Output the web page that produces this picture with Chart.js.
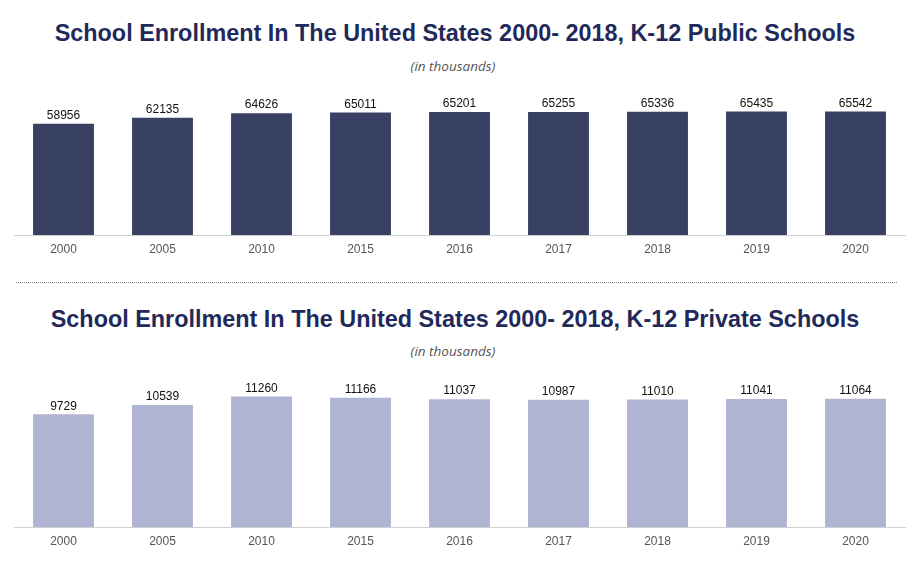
<!DOCTYPE html>
<html>
<head>
<meta charset="utf-8">
<script src="https://cdn.jsdelivr.net/npm/chart.js@4"></script>
<style>
    body { margin: 0; background: #fff; width: 920px; height: 568px; position: relative; overflow: hidden; }
    .titulo { position: absolute; left: 0; width: 910px; text-align: center; font: bold 23.4px "Liberation Sans", Arial, sans-serif; line-height: 26px; color: #1f2a5b; }
    .sub { position: absolute; left: 0; width: 906px; text-align: center; font: italic 13.5px "Open Sans", sans-serif; line-height: 16px; color: #555; }
    .sep { position: absolute; left: 16px; width: 881px; top: 282px; border-top: 1px dotted #888; }
    .caja { position: absolute; left: 0; width: 920px; }
</style>
</head>
<body>
<div class="titulo" style="top:20px">School Enrollment In The United States 2000- 2018, K-12 Public Schools</div>
<div class="sub" style="top:58px">(in thousands)</div>
<div class="caja" style="top:80px;height:185px"><canvas id="graficaPublica"></canvas></div>
<div class="sep"></div>
<div class="titulo" style="top:306px">School Enrollment In The United States 2000- 2018, K-12 Private Schools</div>
<div class="sub" style="top:343px">(in thousands)</div>
<div class="caja" style="top:365px;height:192px"><canvas id="graficaPrivada"></canvas></div>

<script>
//datos de la grafica
const anios = ['2000', '2005', '2010', '2015', '2016', '2017', '2018', '2019', '2020']
const publicas = [58956, 62135, 64626, 65011, 65201, 65255, 65336, 65435, 65542]
const privadas = [9729, 10539, 11260, 11166, 11037, 10987, 11010, 11041, 11064]

Chart.defaults.font.family = '"Liberation Sans", Arial, sans-serif'
Chart.defaults.animation = false

//plugin para escribir el valor encima de cada barra
const etiquetas = {
    id: 'etiquetas',
    afterDatasetsDraw(chart) {
        const ctx = chart.ctx
        const meta = chart.getDatasetMeta(0)
        ctx.save()
        ctx.font = '12px "Liberation Sans", Arial, sans-serif'
        ctx.fillStyle = '#111'
        ctx.textAlign = 'center'
        ctx.textBaseline = 'bottom'
        meta.data.forEach(function (barra, i) {
            ctx.fillText(chart.data.datasets[0].data[i], barra.x, barra.y - 2)
        })
        ctx.restore()
    }
}

function CrearGrafica(id, datos, color, maximo) {
    return new Chart(document.getElementById(id), {
        type: 'bar',
        data: {
            labels: anios,
            datasets: [{
                data: datos,
                backgroundColor: color,
                barPercentage: 0.615,
                categoryPercentage: 1
            }]
        },
        options: {
            responsive: true,
            maintainAspectRatio: false,
            layout: { padding: { top: 23, left: 14, right: 15, bottom: 0 } },
            plugins: { legend: { display: false }, tooltip: { enabled: false } },
            scales: {
                x: {
                    grid: { display: false, drawTicks: false },
                    border: { display: true, color: '#d0d0d4', width: 1 },
                    ticks: { color: '#555', font: { size: 12 }, padding: 7 },
                    afterFit: function (s) { s.height = 30 }
                },
                y: { display: false, min: 0, max: maximo }
            }
        },
        plugins: [etiquetas]
    })
}

let chart = CrearGrafica('graficaPublica', publicas, '#384064', 70000)
let chartF2 = CrearGrafica('graficaPrivada', privadas, '#b0b4d3', 12000)
</script>
</body>
</html>
